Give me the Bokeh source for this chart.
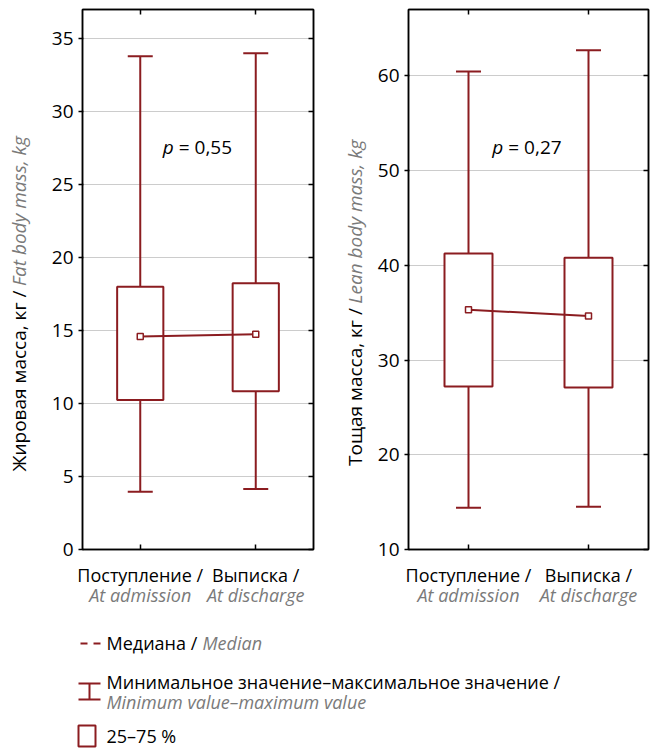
from bokeh.plotting import figure
from bokeh.models import Range1d, FixedTicker, LinearAxis, Label, ColumnDataSource, Grid
from bokeh.layouts import column, row
from bokeh.embed import file_html
from bokeh.resources import INLINE
import math

FONT = "Open Sans"
FS_TICK = "19px"
FS_XTICK = "18px"
FS_TEXT = "18px"
FS_TITLE = "19px"
RED = "#8b1c20"
GRAY = "#7a7a7a"

# ---- data ----
groups_ru = ["Поступление /", "Выписка /"]
groups_en = ["At admission", "At discharge"]
positions = [0, 1]

fat_min = [3.95, 4.15]
fat_q1 = [10.25, 10.85]
fat_median = [14.6, 14.75]
fat_q3 = [18.0, 18.25]
fat_max = [33.8, 34.0]
fat_ticks = [0, 5, 10, 15, 20, 25, 30, 35]

lean_min = [14.4, 14.5]
lean_q1 = [27.2, 27.1]
lean_median = [35.3, 34.65]
lean_q3 = [41.25, 40.8]
lean_max = [60.45, 62.7]
lean_ticks = [10, 20, 30, 40, 50, 60]

p_fat = "= 0,55"
p_lean = "= 0,27"

ROW_H = 615


def title_fig(width, cx, junction_page_y, title_ru, title_en):
    """Narrow figure holding the two-style rotated y-axis title."""
    t = figure(width=width, height=ROW_H, x_range=Range1d(0, width), y_range=Range1d(0, ROW_H),
               x_axis_type=None, y_axis_type=None, output_backend="svg",
               toolbar_location=None, min_border=0)
    t.outline_line_color = None
    jy = ROW_H - junction_page_y
    t.add_layout(Label(x=cx, y=jy, angle=math.pi / 2, text=title_ru, text_align="right",
                       text_baseline="middle", text_font=FONT, text_font_size=FS_TITLE,
                       text_color="black"))
    t.add_layout(Label(x=cx, y=jy + 5, angle=math.pi / 2, text=title_en, text_align="left",
                       text_baseline="middle", text_font=FONT, text_font_size=FS_TITLE,
                       text_font_style="italic", text_color=GRAY))
    return t


def make_panel(mins, q1, med, q3, maxs, yr, yticks, p_text, p_y, width, bl, br):
    p = figure(width=width, height=ROW_H, x_range=Range1d(-0.5, 1.5), y_range=Range1d(*yr),
               x_axis_type=None, y_axis_type=None, output_backend="svg", toolbar_location=None,
               min_border_left=bl, min_border_right=br, min_border_top=9,
               min_border_bottom=ROW_H - 549)
    p.outline_line_color = "black"
    p.outline_line_width = 1.5

    p.add_layout(Grid(dimension=1, ticker=FixedTicker(ticks=yticks),
                      grid_line_color="#cccccc", grid_line_width=1.2))

    def style(ax):
        ax.axis_line_color = "black"
        ax.axis_line_width = 1.5
        ax.major_tick_line_color = "black"
        ax.major_tick_line_width = 1.5
        ax.minor_tick_line_color = None
        ax.major_label_text_font = FONT
        ax.major_label_text_font_size = FS_TICK
        ax.major_label_text_color = "black"

    def hide_labels(ax):
        ax.major_label_text_font_size = "1px"
        ax.major_label_text_color = None
        ax.major_label_standoff = 0

    yl = LinearAxis(ticker=FixedTicker(ticks=yticks))
    style(yl)
    yl.major_tick_out = 4
    yl.major_tick_in = 1
    yl.major_label_standoff = 5
    p.add_layout(yl, "left")

    yr_ax = LinearAxis(ticker=FixedTicker(ticks=yticks))
    style(yr_ax)
    yr_ax.major_tick_out = 0
    yr_ax.major_tick_in = 5
    hide_labels(yr_ax)
    p.add_layout(yr_ax, "right")

    xt = LinearAxis(ticker=FixedTicker(ticks=positions))
    style(xt)
    xt.major_tick_out = 0
    xt.major_tick_in = 5
    hide_labels(xt)
    p.add_layout(xt, "above")

    xb = LinearAxis(ticker=FixedTicker(ticks=positions),
                    major_label_overrides={pos: lab for pos, lab in zip(positions, groups_ru)})
    style(xb)
    xb.major_label_text_font_size = FS_XTICK
    xb.major_tick_out = 0
    xb.major_tick_in = 5
    xb.major_label_standoff = 13
    p.add_layout(xb, "below")

    xb2 = LinearAxis(ticker=FixedTicker(ticks=positions),
                     major_label_overrides={pos: lab for pos, lab in zip(positions, groups_en)})
    style(xb2)
    xb2.major_label_text_font_size = FS_XTICK
    xb2.axis_line_color = None
    xb2.major_tick_line_color = None
    xb2.major_tick_out = 0
    xb2.major_tick_in = 0
    xb2.major_label_standoff = -7
    xb2.major_label_text_font_style = "italic"
    xb2.major_label_text_color = GRAY
    p.add_layout(xb2, "below")

    src = ColumnDataSource(dict(x=positions, mn=mins, q1=q1, med=med, q3=q3, mx=maxs))
    p.segment(x0="x", y0="mn", x1="x", y1="q1", line_color=RED, line_width=2, source=src)
    p.segment(x0="x", y0="q3", x1="x", y1="mx", line_color=RED, line_width=2, source=src)
    p.scatter(x="x", y="mn", marker="dash", size=25, line_color=RED, line_width=2, source=src)
    p.scatter(x="x", y="mx", marker="dash", size=25, line_color=RED, line_width=2, source=src)
    p.vbar(x="x", width=0.4, bottom="q1", top="q3", fill_color="white",
           line_color=RED, line_width=2, source=src)
    p.line(x="x", y="med", line_color=RED, line_width=2, source=src)
    p.scatter(x="x", y="med", marker="square", size=6, fill_color="white",
              line_color=RED, line_width=1.5, source=src)

    p.add_layout(Label(x=0.29, y=p_y, text="p", text_align="right", text_baseline="middle",
                       text_font=FONT, text_font_size=FS_TICK, text_font_style="italic",
                       text_color="black"))
    p.add_layout(Label(x=0.29, y=p_y, x_offset=5, text=p_text, text_align="left",
                       text_baseline="middle", text_font=FONT, text_font_size=FS_TICK,
                       text_color="black"))
    return p


t1 = title_fig(36, 18.5, 320, "Жировая масса, кг /", "Fat body mass, kg")
p1 = make_panel(fat_min, fat_q1, fat_median, fat_q3, fat_max, (0, 37), fat_ticks,
                p_fat, 27.6, 304, 46, 27)
t2 = title_fig(32, 14, 340, "Тощая масса, кг /", "Lean body mass, kg")
p2 = make_panel(lean_min, lean_q1, lean_median, lean_q3, lean_max, (10, 67), lean_ticks,
                p_lean, 52.5, 282, 36, 6)

# ---- legend panel (pixel coordinates of the legend box) ----
LEG_H = 748 - ROW_H
leg = figure(width=654, height=LEG_H, x_range=Range1d(0, 654), y_range=Range1d(ROW_H - 748, 0),
             x_axis_type=None, y_axis_type=None, output_backend="svg", toolbar_location=None,
             min_border=0)
leg.outline_line_color = None


def Y(page_y):
    return ROW_H - page_y


leg.line(x=[80, 100], y=[Y(643), Y(643)], line_color=RED, line_width=2, line_dash="7 6")
leg.segment(x0=[89, 78, 78], y0=[Y(683), Y(683), Y(699)], x1=[89, 100, 100],
            y1=[Y(699), Y(683), Y(699)], line_color=RED, line_width=2)
leg.quad(left=[78], right=[95], bottom=[Y(746)], top=[Y(725)], fill_color="white",
         line_color=RED, line_width=2)


def leg_label(x, page_y, text, italic=False):
    leg.add_layout(Label(x=x, y=Y(page_y), text=text, text_align="left", text_baseline="middle",
                         text_font=FONT, text_font_size=FS_TEXT,
                         text_font_style="italic" if italic else "normal",
                         text_color=GRAY if italic else "black"))


leg_label(106, 642, "Медиана /")
leg_label(202, 642, "Median", True)
leg_label(106, 681, "Минимальное значение–максимальное значение /")
leg_label(106, 701, "Minimum value–maximum value", True)
leg_label(106, 735, "25–75 %")

layout = column(row(t1, p1, t2, p2), leg)
open("out.html", "w").write(file_html(layout, INLINE))
